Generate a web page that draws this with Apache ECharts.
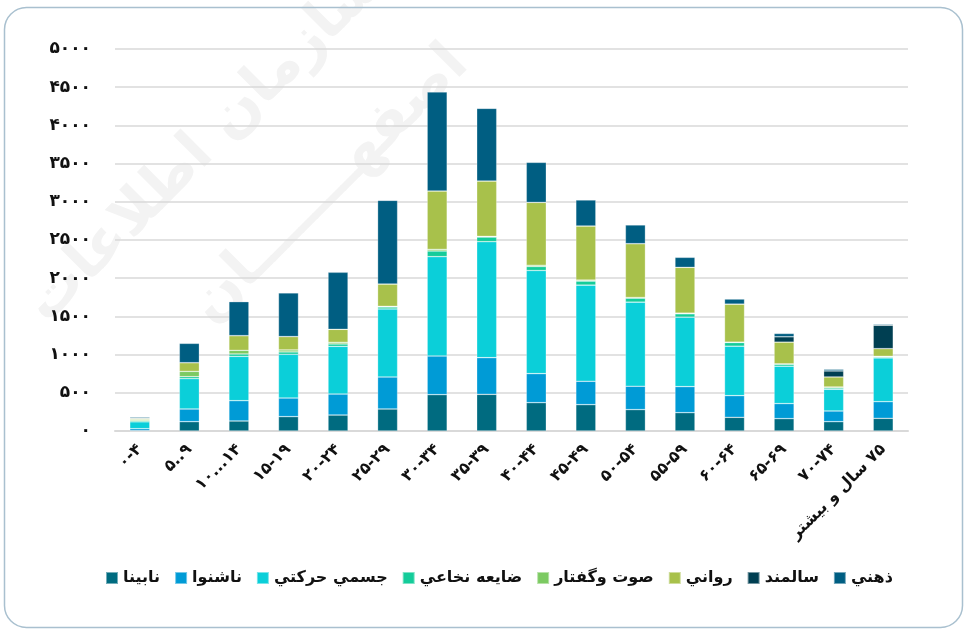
<!DOCTYPE html>
<html><head><meta charset="utf-8">
<script src="https://cdn.jsdelivr.net/npm/echarts@6/dist/echarts.min.js"></script>
<style>html,body{margin:0;padding:0;background:#fff}#c{width:966px;height:629px}</style>
</head><body><div id="c"></div>
<script>
var categories = ['۰-۴','۵..۹','۱۰...۱۴','۱۵-۱۹','۲۰-۲۴','۲۵-۲۹','۳۰-۳۴','۳۵-۳۹','۴۰-۴۴','۴۵-۴۹','۵۰-۵۴','۵۵-۵۹','۶۰-۶۴','۶۵-۶۹','۷۰-۷۴','\u202B۷۵ سال و بیشتر\u202C'];
var seriesNames = ['نابينا','ناشنوا','جسمي حركتي','ضايعه نخاعي','صوت وگفتار','رواني','سالمند','ذهني'];
var nabina   = [5, 122, 131, 188, 209, 288, 476, 480, 371, 345, 280, 240, 179, 162, 122, 166];
var nashnava = [25, 166, 266, 244, 275, 419, 506, 480, 380, 306, 306, 341, 284, 197, 140, 218];
var jesmi    = [90, 397, 580, 572, 624, 890, 1300, 1518, 1350, 1259, 1101, 909, 647, 489, 284, 572];
var nokhaei  = [15, 26, 31, 31, 31, 26, 74, 61, 52, 52, 52, 44, 48, 26, 17, 13];
var sout     = [15, 70, 48, 26, 22, 9, 22, 9, 17, 13, 9, 9, 5, 5, 13, 9];
var ravani   = [15, 113, 192, 175, 170, 292, 764, 724, 822, 708, 704, 599, 498, 284, 131, 100];
var salmand  = [0, 0, 0, 0, 0, 0, 0, 0, 0, 0, 0, 0, 0, 70, 79, 306];
var zehni    = [15, 253, 445, 572, 746, 1095, 1296, 951, 524, 341, 245, 131, 66, 44, 22, 13];
var yTickLabels = ['۰','۵۰۰','۱۰۰۰','۱۵۰۰','۲۰۰۰','۲۵۰۰','۳۰۰۰','۳۵۰۰','۴۰۰۰','۴۵۰۰','۵۰۰۰'];

var colors = ['#006b80','#009bd6','#0bcfd9','#14cc9a','#7cca62','#a8c14b','#003f52','#005e82'];
var values = [nabina, nashnava, jesmi, nokhaei, sout, ravani, salmand, zehni];
var FONT = 'DejaVu Sans';

var chart = echarts.init(document.getElementById('c'), null, {renderer:'canvas'});
chart.setOption({
  animation: false,
  color: colors,
  graphic: [
    {type:'text', x: 205, y: 145, rotation: Math.PI/4, z: -10, silent: true,
     style:{text:'سازمان اطلاعات', font:'bold 58px "DejaVu Sans"', fill:'#f3f3f3', textAlign:'center', textVerticalAlign:'middle'}},
    {type:'text', x: 330, y: 185, rotation: Math.PI/4, z: -10, silent: true,
     style:{text:'اصفهـــــــان', font:'bold 58px "DejaVu Sans"', fill:'#f3f3f3', textAlign:'center', textVerticalAlign:'middle'}},
    {type:'rect', shape:{x:4.5, y:7.5, width:958, height:620, r:22},
     style:{fill:'none', stroke:'#a9c0cf', lineWidth:1.5}, silent:true, z:100}
  ],
  grid: {left: 115, right: 58, top: 49, bottom: 198},
  legend: {
    bottom: 38, left: 100,
    itemWidth: 12, itemHeight: 12, itemGap: 14,
    icon: 'rect',
    data: seriesNames,
    textStyle: {fontFamily: FONT, fontSize: 16, fontWeight: 'bold', color: '#111'}
  },
  xAxis: {
    type: 'category', data: categories,
    axisLine: {lineStyle: {color: '#d9d9d9', width: 2}},
    axisTick: {show: false},
    axisLabel: {rotate: 45, margin: 16, interval: 0, fontFamily: FONT, fontSize: 16, fontWeight: 'bold', color: '#111'}
  },
  yAxis: {
    type: 'value', min: 0, max: 5000, interval: 500,
    axisLine: {show: false}, axisTick: {show: false},
    splitLine: {lineStyle: {color: '#d9d9d9', width: 1.5}},
    axisLabel: {margin: 24, fontFamily: FONT, fontSize: 17, fontWeight: 'bold', color: '#111',
      formatter: function(v){ return yTickLabels[Math.round(v/500)]; }}
  },
  series: seriesNames.map(function(n, i){
    return {name: n, type: 'bar', stack: 'total', barWidth: 20, data: values[i],
      itemStyle: {borderColor: 'rgba(255,255,255,0.45)', borderWidth: 0.6}};
  })
});
</script></body></html>
